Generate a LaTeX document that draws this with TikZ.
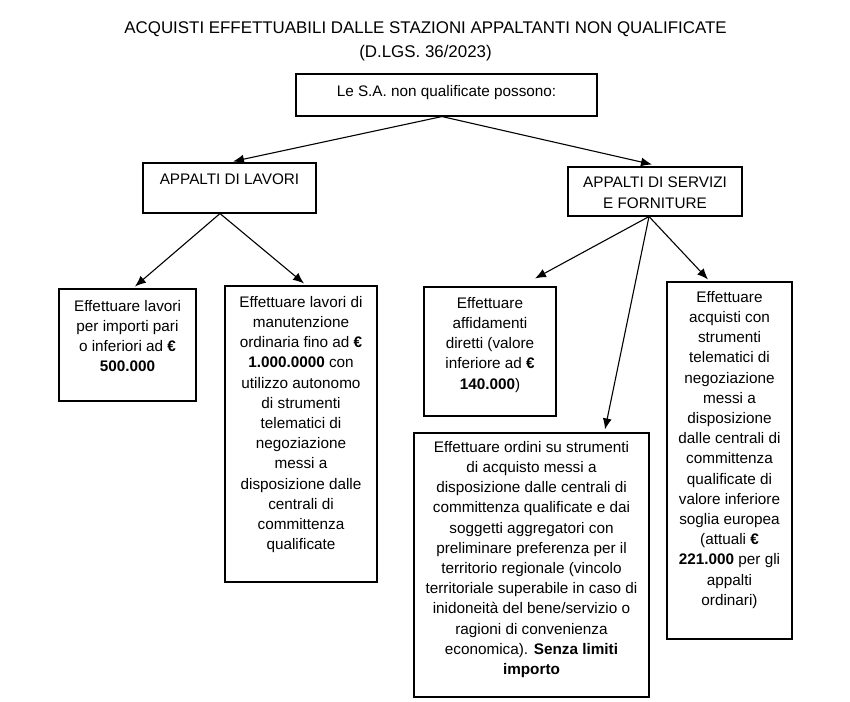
\documentclass[tikz,border=0pt]{standalone}
\usepackage{fontspec}
\setmainfont{Liberation Sans}
\usetikzlibrary{arrows.meta}
\begin{document}
\begin{tikzpicture}[x=1pt,y=-1pt,
  box/.style={draw, line width=1.1pt, inner sep=0pt},
  txt/.style={inner sep=0pt, align=center, anchor=north, font=\fontsize{15.3}{20.2}\selectfont},
  ttl/.style={inner sep=0pt, align=center, anchor=north, font=\fontsize{16.9}{24}\selectfont},
  conn/.style={line width=1.1pt, -{Latex[length=11pt,width=9pt]}}]
\useasboundingbox[fill=white] (0,0) rectangle (850,701);

\node[ttl] (title) at (425.5,21) {ACQUISTI EFFETTUABILI DALLE STAZIONI APPALTANTI NON QUALIFICATE\\(D.LGS. 36/2023)};

% boxes
\node[box, minimum width=301pt, minimum height=42pt] (top) at (446.5,95) {};
\node[box, minimum width=173pt, minimum height=50pt] (lav) at (229.5,188) {};
\node[box, minimum width=174pt, minimum height=49pt] (ser) at (655,191.5) {};
\node[box, minimum width=137pt, minimum height=112pt] (a1) at (127.5,345) {};
\node[box, minimum width=152pt, minimum height=296pt] (a2) at (301,434) {};
\node[box, minimum width=132pt, minimum height=129pt] (b1) at (490,351.5) {};
\node[box, minimum width=235pt, minimum height=264pt] (b2) at (531.5,565) {};
\node[box, minimum width=125pt, minimum height=357pt] (b3) at (729.5,460.5) {};

% texts
\node[txt] (topt) at (446.5,85) {Le S.A. non qualificate possono:};
\node[txt] (lavt) at (229.5,174) {APPALTI DI LAVORI};
\node[txt] (sert) at (655,177) {APPALTI DI SERVIZI\\E FORNITURE};
\node[txt] (a1t) at (127.5,300) {Effettuare lavori\\per importi pari\\o inferiori ad \textbf{€}\\\textbf{500.000}};
\node[txt] (a2t) at (301,296) {Effettuare lavori di\\manutenzione\\ordinaria fino ad \textbf{€}\\\textbf{1.000.0000} con\\utilizzo autonomo\\di strumenti\\telematici di\\negoziazione\\messi a\\disposizione dalle\\centrali di\\committenza\\qualificate};
\node[txt] (b1t) at (490,297) {Effettuare\\affidamenti\\diretti (valore\\inferiore ad \textbf{€}\\\textbf{140.000})};
\node[txt] (b2t) at (531.5,441) {Effettuare ordini su strumenti\\di acquisto messi a\\disposizione dalle centrali di\\committenza qualificate e dai\\soggetti aggregatori con\\preliminare preferenza per il\\territorio regionale (vincolo\\territoriale superabile in caso di\\inidoneità del bene/servizio o\\ragioni di convenienza\\economica). \textbf{Senza limiti}\\\textbf{importo}};
\node[txt] (b3t) at (729.5,291) {Effettuare\\acquisti con\\strumenti\\telematici di\\negoziazione\\messi a\\disposizione\\dalle centrali di\\committenza\\qualificate di\\valore inferiore\\soglia europea\\(attuali \textbf{€}\\\textbf{221.000} per gli\\appalti\\ordinari)};

% connectors
\draw[conn] ([xshift=-4.5pt]top.south) -- ([xshift=3.5pt,yshift=1pt]lav.north);
\draw[conn] ([xshift=-4.5pt]top.south) -- ([xshift=-3pt,yshift=2pt]ser.north);
\draw[conn] ([xshift=-9.5pt]lav.south) -- ([xshift=7.5pt,yshift=2pt]a1.north);
\draw[conn] ([xshift=-9.5pt]lav.south) -- ([xshift=3pt,yshift=2pt]a2.north);
\draw[conn] ([xshift=-6pt]ser.south) -- ([xshift=45pt,yshift=8pt]b1.north);
\draw[conn] ([xshift=-6pt]ser.south) -- ([xshift=73.5pt,yshift=3pt]b2.north);
\draw[conn] ([xshift=-6pt]ser.south) -- ([xshift=-21.5pt,yshift=2pt]b3.north);
\end{tikzpicture}
\end{document}
